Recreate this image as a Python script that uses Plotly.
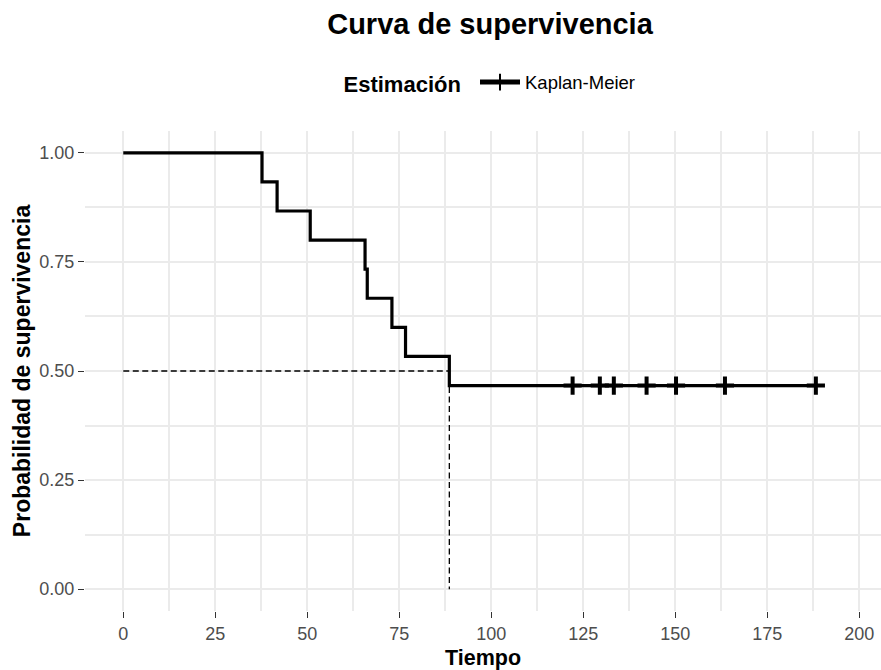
import plotly.graph_objects as go

# Kaplan-Meier estimate: event times and survival after each event
event_times = [37.7, 41.8, 50.8, 65.7, 66.3, 73.0, 76.7, 88.6]
event_surv = [14/15, 13/15, 12/15, 11/15, 10/15, 9/15, 8/15, 7/15]
# censored observations (all on the final plateau)
censor_times = [122.1, 129.5, 133.3, 142.2, 150.2, 163.5, 188.2]
censor_surv = [7/15] * 7

median_time = 88.6
median_surv = 0.5

x_ticks = [0, 25, 50, 75, 100, 125, 150, 175, 200]
y_ticks = [0.0, 0.25, 0.5, 0.75, 1.0]

FONT = "Liberation Sans, Arial, sans-serif"
W, H = 881, 670

xs = [0] + event_times + censor_times
ys = [1.0] + event_surv + censor_surv
sizes = [0] * (1 + len(event_times)) + [13] * len(censor_times)

fig = go.Figure()

# median survival reference lines
fig.add_trace(go.Scatter(
    x=[0, median_time, median_time], y=[median_surv, median_surv, 0],
    mode="lines", line=dict(color="black", width=1.3, dash="6px,3.5px"),
    showlegend=False, hoverinfo="skip",
))

# step curve; censored times carry the "+" marks
fig.add_trace(go.Scatter(
    x=xs, y=ys, mode="lines+markers", name="Kaplan-Meier",
    line=dict(color="black", width=3.2, shape="hv"),
    marker=dict(symbol="cross-thin", size=sizes, color="black", opacity=1,
                line=dict(color="black", width=4)),
))

grid = "#EBEBEB"
fig.update_layout(
    width=W, height=H,
    margin=dict(l=85, r=0, t=131, b=59, pad=0),
    paper_bgcolor="white", plot_bgcolor="white",
    font=dict(family=FONT, color="black"),
    title=dict(text="<b>Curva de supervivencia</b>", font=dict(size=29, color="black"),
               x=490 / W, xanchor="center", xref="container",
               y=1 - 24 / H, yanchor="middle", yref="container"),
    legend=dict(orientation="h", x=491 / W, xanchor="center", xref="container",
                y=1 - 83 / H, yanchor="middle", yref="container",
                title=dict(text="<b>Estimación</b>&nbsp;", font=dict(size=22, color="black")),
                font=dict(size=18.5, color="black"), itemsizing="constant",
                itemwidth=40, bgcolor="rgba(0,0,0,0)"),
    xaxis=dict(
        range=[-10.4, 205.9], tickvals=x_ticks, ticktext=[str(v) for v in x_ticks],
        showgrid=True, gridcolor=grid, gridwidth=1.5,
        minor=dict(dtick=12.5, tick0=0, showgrid=True, gridcolor=grid, gridwidth=1.5),
        zeroline=False, showline=False,
        ticks="outside", ticklen=6, tickwidth=1.3, tickcolor="#333333",
        tickfont=dict(size=18, color="#4D4D4D"),
        title=dict(text="<b>Tiempo</b>", font=dict(size=21.5, color="black"), standoff=8),
    ),
    yaxis=dict(
        range=[-0.05, 1.05], tickvals=y_ticks, tickformat=".2f",
        showgrid=True, gridcolor=grid, gridwidth=1.5,
        minor=dict(dtick=0.125, tick0=0, showgrid=True, gridcolor=grid, gridwidth=1.5),
        zeroline=False, showline=False,
        ticks="outside", ticklen=6, tickwidth=1.3, tickcolor="#333333",
        tickfont=dict(size=18, color="#4D4D4D"),
        title=dict(text="<b>Probabilidad de supervivencia</b>",
                   font=dict(size=23, color="black"), standoff=2),
    ),
)

fig.write_html("out.html")
